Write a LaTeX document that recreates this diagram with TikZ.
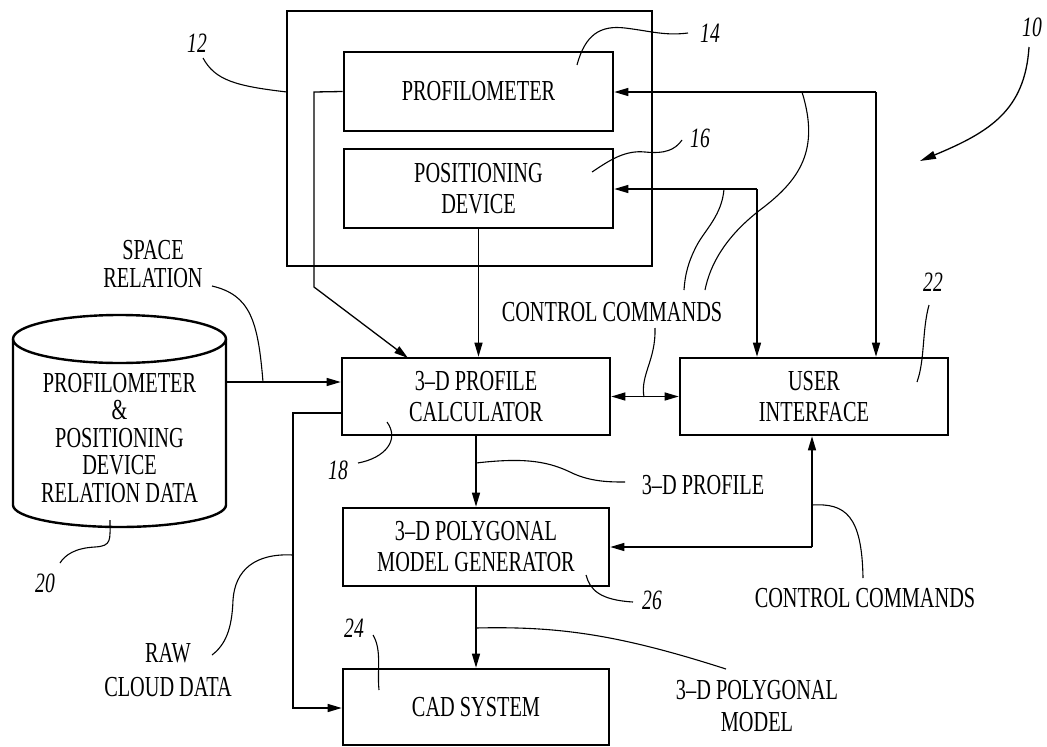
\documentclass[tikz,border=0pt]{standalone}
\usepackage{fontspec}
\setmainfont{Liberation Serif}[FakeStretch=0.7]
\usetikzlibrary{arrows.meta}
\begin{document}
\begin{tikzpicture}[x=1pt,y=-1pt,
  txt/.style={font=\fontsize{29}{31}\selectfont, align=center, inner sep=0pt},
  num/.style={font=\fontsize{28}{30}\selectfont\itshape, inner sep=0pt},
  box/.style={draw, line width=2.6pt, inner sep=0pt, align=center, font=\fontsize{29}{31}\selectfont},
  conn/.style={line width=1.3pt},
  arr/.style={line width=1.3pt, -{Triangle[length=14pt,width=8pt]}},
  dblarr/.style={line width=1.3pt, {Triangle[length=14pt,width=8pt]}-{Triangle[length=14pt,width=8pt]}},
  lead/.style={line width=1.1pt},
]
\useasboundingbox (0,0) rectangle (1047,747);
\fill[white] (0,0) rectangle (1047,747);

% boxes
\node[box, minimum width=365pt, minimum height=255pt] (unit) at (469.5,138.5) {};
\node[box, minimum width=269pt, minimum height=79pt] (prof) at (478.5,91.5) {PROFILOMETER};
\node[box, minimum width=269pt, minimum height=79pt] (pos) at (478.5,188.5) {POSITIONING\\DEVICE};
\node[box, minimum width=268pt, minimum height=77pt] (calc) at (476,396.5) {3--D PROFILE\\CALCULATOR};
\node[box, minimum width=268pt, minimum height=77pt] (ui) at (814,396.5) {USER\\INTERFACE};
\node[box, minimum width=266pt, minimum height=78pt] (poly) at (476,547) {3--D POLYGONAL\\MODEL GENERATOR};
\node[box, minimum width=266pt, minimum height=76pt] (cad) at (476,707) {CAD SYSTEM};

% database cylinder
\draw[line width=2.4pt] (13,339) -- (13,505) arc[start angle=180, end angle=0, x radius=106.5, y radius=22] -- (226,339);
\draw[line width=2.4pt] (119.5,339) ellipse [x radius=106.5, y radius=24];
\node[txt, font=\fontsize{29}{27.5}\selectfont] (db) at (119.5,438) {PROFILOMETER\\\&\\POSITIONING\\DEVICE\\RELATION DATA};
\coordinate (dbr) at (226,382);

% coordinates
\coordinate (p1) at (314,92);
\coordinate (p2) at (314,287);
\coordinate (p3) at (408,358);
\coordinate (r1) at (342,413);
\coordinate (r2) at (293,413);
\coordinate (r3) at (293,708);
\coordinate (c1) at (876,92);
\coordinate (c2) at (757,189);
\coordinate (c3) at (812,547);

% connectors
\draw[arr] (prof.west) -- (p1) -- (p2) -- (p3);
\draw[arr] (pos.south) -- (pos.south |- calc.north);
\draw[arr] (dbr) -- (dbr -| calc.west);
\draw[arr] (r1) -- (r2) -- (r3) -- (r3 -| cad.west);
\draw[arr] (calc.south) -- (poly.north);
\draw[arr] (poly.south) -- (cad.north);
\draw[dblarr] (calc.east) -- (ui.west);
\draw[arr] (c1) -- (c1 -| prof.east);
\draw[arr] (c1) -- (c1 |- ui.north);
\draw[arr] (c2) -- (c2 -| pos.east);
\draw[arr] (c2) -- (c2 |- ui.north);
\draw[arr] (c3) -- (c3 -| poly.east);
\draw[arr] (c3) -- (c3 |- ui.south);

% labels
\node[txt, font=\fontsize{29}{28}\selectfont] (space) at (153,264) {SPACE\\RELATION};
\node[txt] (cc1) at (612,312) {CONTROL COMMANDS};
\node[txt] (prf) at (703,485) {3--D PROFILE};
\node[txt] (cc2) at (865,598) {CONTROL COMMANDS};
\node[txt, font=\fontsize{29}{34}\selectfont] (raw) at (168,670) {RAW\\CLOUD DATA};
\node[txt, font=\fontsize{29}{32}\selectfont] (pm) at (757,706) {3--D POLYGONAL\\MODEL};

% reference numerals
\node[num] (n10) at (1032,27) {10};
\node[num] (n12) at (197,43) {12};
\node[num] (n14) at (710,33) {14};
\node[num] (n16) at (700,138) {16};
\node[num] (n18) at (338,470) {18};
\node[num] (n20) at (45,583) {20};
\node[num] (n22) at (933,282) {22};
\node[num] (n24) at (354,628) {24};
\node[num] (n26) at (652,600) {26};

% leader lines
\draw[line width=1.3pt, -{Triangle[length=16pt,width=8pt]}] (1029,47) .. controls (1025,110) and (990,132) .. (920,161);
\draw[lead] (203,58) .. controls (215,80) and (235,86) .. (287,92);
\draw[lead] (577,65) .. controls (585,35) and (600,25) .. (625,28) .. controls (650,31) and (665,36) .. (688,33);
\draw[lead] (592,172) .. controls (610,160) and (625,150) .. (645,152) .. controls (665,154) and (675,150) .. (682,140);
\draw[lead] (802,92) .. controls (820,150) and (800,180) .. (760,210) .. controls (725,237) and (710,265) .. (705,290);
\draw[lead] (724,189) .. controls (722,215) and (705,230) .. (697,245) .. controls (688,262) and (685,275) .. (684,290);
\draw[lead] (644,397) .. controls (640,375) and (656,360) .. (655,328);
\draw[lead] (917,382) .. controls (925,360) and (922,330) .. (929,305);
\draw[lead] (387,422) .. controls (400,440) and (385,458) .. (358,463);
\draw[lead] (476,463) .. controls (520,458) and (545,460) .. (570,472) .. controls (590,482) and (610,482) .. (625,482);
\draw[lead] (586,575) .. controls (590,590) and (600,600) .. (633,602);
\draw[lead] (476,628) .. controls (560,626) and (620,635) .. (726,669);
\draw[lead] (812,505) .. controls (845,503) and (862,515) .. (863,578);
\draw[lead] (373,635) .. controls (382,650) and (377,670) .. (379,690);
\draw[lead] (110,520) .. controls (110,540) and (112,546) .. (95,547) .. controls (75,548) and (65,555) .. (60,563);
\draw[lead] (293,555) .. controls (255,553) and (235,570) .. (233,600) .. controls (232,630) and (225,645) .. (212,655);
\draw[lead] (212,286) .. controls (250,295) and (258,320) .. (263,382);
\end{tikzpicture}
\end{document}
